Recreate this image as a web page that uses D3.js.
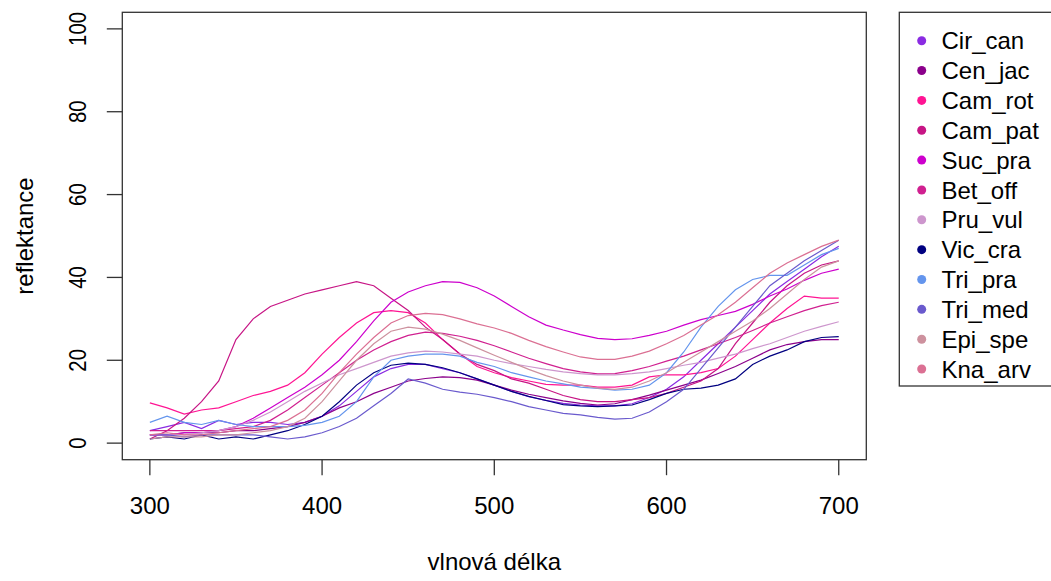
<!DOCTYPE html>
<html>
<head>
<meta charset="utf-8">
<script src="https://cdn.jsdelivr.net/npm/d3@7"></script>
<style>
  html, body { margin: 0; padding: 0; background: #fff; }
  svg text { font-family: "Liberation Sans", Arial, sans-serif; fill: #000; }
</style>
</head>
<body>
<div id="chart"></div>
<script>
var wavelength = [300,310,320,330,340,350,360,370,380,390,400,410,420,430,440,450,460,470,480,490,
                  500,510,520,530,540,550,560,570,580,590,600,610,620,630,640,650,660,670,680,690,700];

var species = ["Cir_can","Cen_jac","Cam_rot","Cam_pat","Suc_pra","Bet_off",
               "Pru_vul","Vic_cra","Tri_pra","Tri_med","Epi_spe","Kna_arv"];
var colors = ["#8a2be2","#8b008b","#ff1493","#c71585","#cd00cd","#d02090",
              "#cd96cd","#000080","#6495ed","#6a5acd","#cd919e","#db7093"];

var cir_can = [3,4,5,3.5,5.5,4.5,5,5,4.5,5,6.5,9,12.5,16,18,19,19,18,17,15.5,
               14,12.5,11.2,10.3,9.6,9.2,9,9,9.5,11,13,16,20,24,28,32,36,39,42,45,47.5];
var cen_jac = [2,2,2.5,2.5,2.5,3,3,3.5,4,5,6.5,8.5,10,12,13.5,15,15.6,16,15.8,15.2,
               14,12.8,11.8,11,10.2,9.6,9.2,9.5,10.5,11.6,12.8,14,15.2,16.8,18.5,20.5,22.5,23.8,24.5,25,25];
var cam_rot = [9.7,8.5,7,8,8.5,10,11.5,12.5,14,17,21.5,25.5,29,31.5,32,31.5,29,25,21.5,18.5,
               17,15.8,15,14.2,14,14,13.5,13.5,14,16,16.5,16.5,17,18,21,25,29,32.5,35.5,35,35];
var cam_pat = [1,3,6,10,15,25,30,33,34.5,36,37,38,39,38,35,32,28,25,21.5,19,
               17.5,15.5,14.5,13,11.5,10.5,10,10,10.5,11,12,13.5,15,18,24,29,34,38,41,43,44];
var suc_pra = [2,2,2.5,2.5,3,4,6,8.5,11,13.5,16.5,20,24.5,29.5,34,36.5,38,39,38.8,37.5,
               35.5,33,30.5,28.5,27.3,26.2,25.3,25,25.2,26,27,28.5,29.8,30.8,31.8,33.5,35.5,37.2,39.3,41,42];
var bet_off = [3,3,3,3,3,3.5,4,5.5,8,11,14,17,20,22.5,24.5,26,26.8,26.5,25.8,24.8,
               23.5,22,20.5,19.2,18,17.2,16.7,16.8,17.5,18.5,19.8,21,22.5,24,25.5,27.2,29,30.5,32,33.2,34];
var pru_vul = [2,2,2,2.5,3,4,5.5,7.5,10,12.5,14.5,16.5,18,19.5,21,21.8,22.2,22,21.5,21,
               20,19.2,18.5,17.8,17.2,16.8,16.5,16.5,16.8,17.2,18,18.8,19.5,20.5,21.5,22.8,24,25.5,27,28.2,29.3];
var vic_cra = [1,1.5,1,2,1,1.5,1,2,3,4.5,6.5,10,14,17,18.8,19.3,19,18.2,17,15.5,
               14,12.5,11.3,10.3,9.3,9,8.8,9,9.2,10.5,12,13,13.3,14,15.5,19,21,22.5,24.5,25.5,25.7];
var tri_pra = [5,6.5,5,4.5,5.5,4.5,4,4,4,4.3,5,6.5,10,16,20,21,21.5,21.5,21,19.5,
               18.5,17,16,15,14.3,13.5,13.2,12.8,13,14,17,22,28,33,37,39.5,40.5,40.5,43,45.5,47];
var tri_med = [2,2,1.5,2,2,2,2,1.5,1,1.5,2.5,4,6,9,12,15.5,14.5,13,12.3,11.8,
               11,10,8.8,8,7.2,6.8,6.2,5.8,6,7.5,10,13,18,23,28,33,38,41,44,46.5,49];
var epi_spe = [1,1.5,1.5,1.5,2,2,2.5,3,4,6,10,15,20,24,27,28,27.5,26.3,24.8,23,
               21.2,19.5,17.8,16.3,15,14,13.3,13,13.5,15,17,19.5,22,24.5,27,29.5,32.5,36,39.5,42.5,44];
var kna_arv = [2,2.5,2,2,2.5,3,3.5,4,5.5,8,12,17,21.5,25.5,29,30.8,31.3,31,30,28.8,
               27.8,26.5,24.8,23.3,22,20.8,20.2,20.2,21,22.2,24,26,28.5,31,34,37.5,41,43.5,45.5,47.5,49];

var seriesValues = [cir_can, cen_jac, cam_rot, cam_pat, suc_pra, bet_off,
                    pru_vul, vic_cra, tri_pra, tri_med, epi_spe, kna_arv];

var xTicks = [300,400,500,600,700];
var yTicks = [0,20,40,60,80,100];

var width = 1051, height = 581;
var plot = {left: 122.3, right: 866.3, top: 12.3, bottom: 459.7};

var svg = d3.select("#chart")
  .append("svg")
  .attr("width", width)
  .attr("height", height)
  .attr("viewBox", [0, 0, width, height]);

// R style axes: 4% padding around the data range
var x = d3.scaleLinear().domain([284, 716]).range([plot.left, plot.right]);
var y = d3.scaleLinear().domain([-4, 104]).range([plot.bottom, plot.top]);

var line = d3.line()
  .x(function(d) { return x(d[0]); })
  .y(function(d) { return y(d[1]); });

var g = svg.append("g").attr("fill", "none").attr("stroke-width", 1.2);

seriesValues.forEach(function(vals, i) {
  g.append("path")
    .datum(wavelength.map(function(w, j) { return [w, vals[j]]; }))
    .attr("stroke", colors[i])
    .attr("d", line);
});

// plot box
svg.append("rect")
  .attr("x", plot.left).attr("y", plot.top)
  .attr("width", plot.right - plot.left).attr("height", plot.bottom - plot.top)
  .attr("fill", "none").attr("stroke", "#333").attr("stroke-width", 1.3);

// x axis
var xa = svg.append("g");
xa.selectAll("line").data(xTicks).join("line")
  .attr("x1", function(d) { return x(d); }).attr("x2", function(d) { return x(d); })
  .attr("y1", plot.bottom).attr("y2", plot.bottom + 15.5)
  .attr("stroke", "#333").attr("stroke-width", 1.3);
xa.selectAll("text").data(xTicks).join("text")
  .attr("x", function(d) { return x(d); })
  .attr("y", 514)
  .attr("text-anchor", "middle")
  .attr("font-size", 24)
  .text(function(d) { return d; });

// y axis
var ya = svg.append("g");
ya.selectAll("line").data(yTicks).join("line")
  .attr("x1", plot.left - 15.5).attr("x2", plot.left)
  .attr("y1", function(d) { return y(d); }).attr("y2", function(d) { return y(d); })
  .attr("stroke", "#333").attr("stroke-width", 1.3);
ya.selectAll("text").data(yTicks).join("text")
  .attr("transform", function(d) { return "translate(86," + y(d) + ") rotate(-90) scale(0.85,1)"; })
  .attr("text-anchor", "middle")
  .attr("font-size", 24)
  .text(function(d) { return d; });

// axis titles
svg.append("text")
  .attr("x", (plot.left + plot.right) / 2)
  .attr("y", 570)
  .attr("text-anchor", "middle")
  .attr("font-size", 24)
  .text("vlnová délka");
svg.append("text")
  .attr("transform", "translate(33," + (plot.top + plot.bottom) / 2 + ") rotate(-90)")
  .attr("text-anchor", "middle")
  .attr("font-size", 24)
  .text("reflektance");

// legend
var legend = svg.append("g");
legend.append("rect")
  .attr("x", 899.3).attr("y", 12.3)
  .attr("width", 170).attr("height", 386 - 12.3)
  .attr("fill", "none").attr("stroke", "#333").attr("stroke-width", 1.3);
var items = legend.selectAll("g.item").data(species).join("g")
  .attr("class", "item")
  .attr("transform", function(d, i) { return "translate(0," + (40.7 + i * 29.85) + ")"; });
items.append("circle")
  .attr("cx", 921.7).attr("cy", 0).attr("r", 4.5)
  .attr("fill", function(d, i) { return colors[i]; });
items.append("text")
  .attr("x", 941.5).attr("y", 8.6)
  .attr("font-size", 24)
  .text(function(d) { return d; });
</script>
</body>
</html>
